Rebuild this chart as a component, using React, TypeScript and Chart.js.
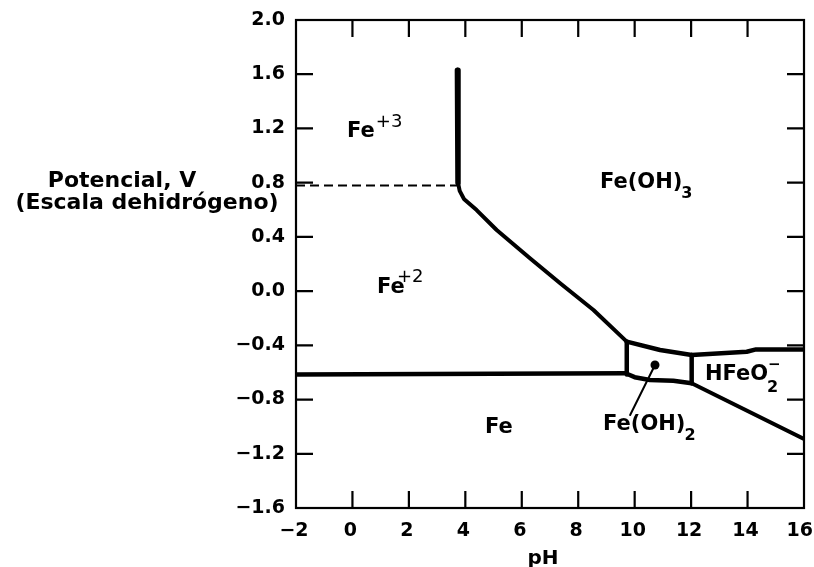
import React, { useEffect, useRef } from "react";
import { Chart, registerables } from "chart.js";

Chart.register(...registerables);

type Pt = [number, number];

// Axis ranges / tick labels
const xTickValues = [-2, 0, 2, 4, 6, 8, 10, 12, 14, 16];
const yTickValues = [2.0, 1.6, 1.2, 0.8, 0.4, 0.0, -0.4, -0.8, -1.2, -1.6];

// Boundary lines (pH, potential V)
const dashedFe3Fe2: Pt[] = [[-2, 0.78], [3.74, 0.78]];
const lineFe3FeOH3: Pt[] = [[3.72, 1.63], [3.74, 0.8]];
const lineFe2FeOH3: Pt[] = [
  [3.74, 0.8], [3.8, 0.74], [3.95, 0.68], [4.4, 0.598], [5.11, 0.451],
  [6.29, 0.242], [7.36, 0.058], [8.54, -0.139], [9.72, -0.373],
];
const lineFeFe2: Pt[] = [[-2, -0.615], [9.72, -0.606]];
const lineFe2FeOH2: Pt[] = [[9.72, -0.373], [9.72, -0.615]];
const lineFeFeOH2: Pt[] = [[9.72, -0.61], [10.0, -0.635], [10.54, -0.656], [11.37, -0.661], [12.02, -0.68]];
const lineFeOH3FeOH2: Pt[] = [[9.72, -0.373], [10.9, -0.434], [12.02, -0.471]];
const lineFeOH2HFeO2: Pt[] = [[12.02, -0.471], [12.02, -0.68]];
const lineFeOH3HFeO2: Pt[] = [[12.02, -0.471], [13.97, -0.447], [14.3, -0.43], [16, -0.43]];
const lineFeHFeO2: Pt[] = [[12.02, -0.68], [16, -1.09]];
const leaderFeOH2: Pt[] = [[10.72, -0.545], [9.84, -0.914]];
const dotFeOH2: Pt[] = [[10.72, -0.545]];

// Region labels: main text, superscript, subscript, anchor (pH, V)
const labelMain = ["Fe", "Fe", "Fe(OH)", "Fe", "Fe(OH)", "HFeO"];
const labelSup = ["+3", "+2", "", "", "", "−"];
const labelSub = ["", "", "3", "", "2", "2"];
const labelPH = [-0.19, 0.87, 8.77, 4.7, 8.88, 12.49];
const labelV = [1.137, -0.014, 0.761, -1.047, -1.024, -0.656];

const yTitleLines = ["Potencial, V", "(Escala dehidrógeno)"];
const xTitle = "pH";

const FONT = "'DejaVu Sans', 'Liberation Sans', sans-serif";

const toXY = (pts: Pt[]) => pts.map(([x, y]) => ({ x, y }));

const fmt = (v: number, d: number) => {
  const s = Math.abs(v).toFixed(d);
  return v < -1e-9 ? "−" + s : s;
};

const overlayPlugin = {
  id: "overlay",
  afterDraw(chart: any) {
    const { ctx, chartArea: a, scales, width } = chart;
    const xs = scales.x;
    const ys = scales.y;
    ctx.save();
    ctx.strokeStyle = "#000";
    ctx.fillStyle = "#000";
    ctx.lineWidth = 2.2;
    ctx.strokeRect(a.left, a.top, a.right - a.left, a.bottom - a.top);
    const tl = 17;
    ctx.beginPath();
    xs.ticks.forEach((t: any) => {
      if (t.value <= xs.min || t.value >= xs.max) return;
      const p = xs.getPixelForValue(t.value);
      ctx.moveTo(p, a.bottom);
      ctx.lineTo(p, a.bottom - tl);
      ctx.moveTo(p, a.top);
      ctx.lineTo(p, a.top + tl);
    });
    ys.ticks.forEach((t: any) => {
      if (t.value <= ys.min + 1e-6 || t.value >= ys.max - 1e-6) return;
      const p = ys.getPixelForValue(t.value);
      ctx.moveTo(a.left, p);
      ctx.lineTo(a.left + tl, p);
      ctx.moveTo(a.right, p);
      ctx.lineTo(a.right - tl, p);
    });
    ctx.stroke();

    // x tick labels (kept inside the canvas)
    ctx.font = `bold 19px ${FONT}`;
    ctx.textAlign = "center";
    ctx.textBaseline = "alphabetic";
    xs.ticks.forEach((t: any) => {
      const s = fmt(t.value, 0);
      const w = ctx.measureText(s).width;
      let p = xs.getPixelForValue(t.value) - 2;
      p = Math.min(p, width - w / 2 - 1);
      ctx.fillText(s, p, a.bottom + 28);
    });

    // region labels
    ctx.textAlign = "left";
    labelMain.forEach((m, i) => {
      const x = xs.getPixelForValue(labelPH[i]);
      const y = ys.getPixelForValue(labelV[i]);
      ctx.font = `bold 21px ${FONT}`;
      ctx.fillText(m, x, y);
      const w = ctx.measureText(m).width;
      if (labelSub[i]) {
        ctx.font = `bold 16px ${FONT}`;
        const dy = labelSup[i] ? 12 : 10;
        ctx.fillText(labelSub[i], x + w - 1, y + dy);
      }
      if (labelSup[i]) {
        const s = labelSup[i];
        if (s === "−") {
          ctx.font = `bold 15px ${FONT}`;
          ctx.fillText(s, x + w, y - 11);
        } else {
          ctx.font = `18px ${FONT}`;
          const dx = s === "+2" ? 20 : w + 1;
          const dy = s === "+2" ? -11 : -10;
          ctx.fillText(s, x + dx, y + dy);
        }
      }
    });

    // y title (horizontal, left of axis)
    ctx.font = `bold 22px ${FONT}`;
    ctx.textAlign = "center";
    ctx.fillText(yTitleLines[0], a.left - 174, a.top + 167);
    ctx.fillText(yTitleLines[1], a.left - 149, a.top + 189);

    // x title
    ctx.font = `bold 20px ${FONT}`;
    ctx.fillText(xTitle, (a.left + a.right) / 2 - 7, a.bottom + 56);
    ctx.restore();
  },
};

const lineDs = (data: Pt[], width: number, extra: any = {}) => ({
  data: toXY(data),
  showLine: true,
  borderColor: "#000",
  backgroundColor: "#000",
  borderWidth: width,
  pointRadius: 0,
  tension: 0,
  borderCapStyle: "round",
  borderJoinStyle: "round",
  ...extra,
});

export default function App() {
  const ref = useRef<HTMLCanvasElement | null>(null);
  useEffect(() => {
    document.body.style.margin = "0";
    if (!ref.current) return;
    const chart = new Chart(ref.current, {
      type: "scatter",
      data: {
        datasets: [
          lineDs(dashedFe3Fe2, 2, { borderDash: [9, 5], borderCapStyle: "butt" }),
          lineDs(lineFe3FeOH3, 5.5),
          lineDs(lineFe2FeOH3, 4),
          lineDs(lineFeFe2, 4.5),
          lineDs(lineFe2FeOH2, 4.5),
          lineDs(lineFeFeOH2, 4.5),
          lineDs(lineFeOH3FeOH2, 4.5),
          lineDs(lineFeOH2HFeO2, 4.5),
          lineDs(lineFeOH3HFeO2, 4.5),
          lineDs(lineFeHFeO2, 4),
          lineDs(leaderFeOH2, 2),
          lineDs(dotFeOH2, 0, { showLine: false, pointRadius: 4.5, pointBorderWidth: 0 }),
        ] as any,
      },
      options: {
        animation: false,
        responsive: false,
        devicePixelRatio: 1,
        layout: { padding: { left: 0, top: 20, right: 10, bottom: 0 } },
        plugins: { legend: { display: false }, tooltip: { enabled: false }, title: { display: false } },
        scales: {
          x: {
            type: "linear",
            min: xTickValues[0],
            max: xTickValues[xTickValues.length - 1],
            afterBuildTicks: (s: any) => {
              s.ticks = xTickValues.map((v) => ({ value: v }));
            },
            afterFit: (s: any) => {
              s.height = 59;
              s.paddingLeft = 0;
              s.paddingRight = 0;
            },
            grid: { display: false, drawTicks: false },
            border: { display: false },
            ticks: { display: false },
          },
          y: {
            type: "linear",
            min: yTickValues[yTickValues.length - 1],
            max: yTickValues[0],
            afterBuildTicks: (s: any) => {
              s.ticks = yTickValues.slice().reverse().map((v) => ({ value: v }));
            },
            afterFit: (s: any) => {
              s.width = 296;
              s.paddingTop = 0;
              s.paddingBottom = 0;
            },
            grid: { display: false, drawTicks: false },
            border: { display: false },
            ticks: {
              padding: 11,
              color: "#000",
              font: { family: FONT, size: 19, weight: "bold" },
              callback: (v: any) => fmt(Number(v), 1),
              autoSkip: false,
            },
          },
        },
      } as any,
      plugins: [overlayPlugin],
    });
    return () => chart.destroy();
  }, []);
  return <canvas ref={ref} width={814} height={567} style={{ display: "block" }} />;
}
